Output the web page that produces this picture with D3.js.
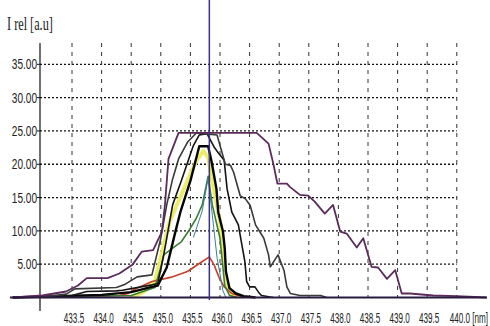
<!DOCTYPE html>
<html>
<head>
<meta charset="utf-8">
<script src="https://cdnjs.cloudflare.com/ajax/libs/d3/7.8.5/d3.min.js"></script>
<style>
  html, body { margin: 0; padding: 0; background: white; }
</style>
</head>
<body>
<div class="specDiv"></div>
<script>

// ----------------------- Data --------------------------------//

// wavelength [nm] / relative intensity pairs
let purpleSeries = [[432.5,0],[433.0,0.3],[433.4,0.9],[433.6,1.8],[433.75,2.9],[434.1,2.9],[434.3,3.6],[434.52,4.9],[434.68,6.9],[434.87,7.1],[435.02,9.9],[435.07,13.9],[435.13,20.8],[435.3,24.7],
    [436.62,24.7],[436.82,23.1],[436.9,20.1],[436.97,17.1],[437.13,17.1],[437.18,16.6],[437.35,15.4],[437.49,15.3],[437.6,14.4],[437.77,12.6],[437.91,13.9],[438.03,9.9],[438.14,9.6],[438.31,7.5],[438.42,8.9],[438.56,4.6],[438.67,4.5],[438.82,2.8],[438.96,4.1],[439.07,0.6],[439.21,0.6],[439.6,0.3],[440.0,0.2],[440.5,0]]

let graySeries = [[432.5,0],[433.0,0.1],[433.4,0.5],[433.55,1.3],[434.25,1.5],[434.4,2.0],[434.6,3.1],[434.85,3.4],[435.0,8.9],[435.1,13.9],[435.2,17.8],[435.3,20.8],[435.45,23.3],[435.6,24.7],[435.95,24.4],[436.09,20.0],[436.18,19.8],[436.23,18.8],[436.34,15.3],[436.43,14.8],[436.51,13.8],[436.6,10.9],[436.74,8.9],[436.82,6.4],[436.85,4.6],[436.98,6.4],[437.08,4.1],[437.13,1.6],[437.19,0.6],[437.35,0.3],[437.7,0.3],[437.8,0]]

let blackSeries = [[432.5,0],[433.5,0.3],[433.75,0.9],[434.25,1.0],[434.35,1.1],[434.85,1.9],[434.95,2.1],[435.05,6.4],[435.2,13.9],[435.35,17.6],[435.55,22.8],[435.65,24.4],[435.78,24.6],[435.9,22.6],[435.98,21.6],[436.07,20.6],[436.12,16.3],[436.2,12.8],[436.31,10.9],[436.36,8.4],[436.42,5.4],[436.45,2.4],[436.5,1.6],[436.59,1.6],[436.65,0.8],[436.7,0.3],[436.9,0]]

let thickSeries = [[432.5,0],[434.0,0.4],[434.5,0.8],[434.85,1.6],[434.95,1.8],[435.1,4.5],[435.25,10.0],[435.33,12.8],[435.5,17.5],[435.65,22.7],[435.8,22.7],[435.86,20.3],[435.94,16.3],[435.97,12.8],[436.05,9.9],[436.08,7.4],[436.1,3.9],[436.16,1.4],[436.27,0.6],[436.4,0.2],[436.6,0]]

let yellowSeries = [[434.5,0],[434.7,0.8],[434.9,2.4],[435.15,11.4],[435.4,16.5],[435.6,20.5],[435.72,22.0],[435.8,21.0],[435.9,16.0],[436.0,11.4],[436.1,2.4],[436.2,0.5],[436.3,0]]

let greenSeries = [[432.5,0],[434.5,0.3],[434.9,1.5],[435.0,4.5],[435.05,6.4],[435.2,7.4],[435.35,8.4],[435.5,10.4],[435.6,11.9],[435.7,13.9],[435.8,18.2],[435.87,13.9],[436.0,8.9],[436.08,1.8],[436.16,0.3],[436.3,0]]

let cyanSeries = [[435.55,9.0],[435.7,13.0],[435.8,18.0],[435.85,14.0],[435.95,6.0],[436.05,1.0],[436.1,0]]

let redSeries = [[433.0,0],[434.3,0.3],[434.45,0.6],[434.55,1.2],[434.85,2.4],[435.2,3.1],[435.45,3.9],[435.65,5.1],[435.82,6.1],[435.9,4.9],[435.98,3.1],[436.07,1.6],[436.2,0.6],[436.35,0.2],[436.5,0]]

// marker line position
let markerWavelength = 435.82

// axis ticks
let xTicks = [433.5,434.0,434.5,435.0,435.5,436.0,436.5,437.0,437.5,438.0,438.5,439.0,439.5,440.0]
let xTickLabels = ["433.5","434.0","434.5","435.0","435.5","436.0","436.5","437.0","437.5","438.0","438.5","439.0","439.5","440.0 [nm]"]
let yTicks = [5,10,15,20,25,30,35]
let yTickLabels = ["5.00","10.00","15.00","20.00","25.00","30.00","35.00"]

// ----------------------- Setup --------------------------------//

let width = 490, height = 326

let x = d3.scaleLinear().domain([433, 440]).range([42.4, 456.8])
let y = d3.scaleLinear().domain([0, 38.2]).range([297.5, 43])

let svg = d3.select(".specDiv").append("svg")
    .attr("width", width)
    .attr("height", height)
    .style("display", "block")
    .style("background-color", "white")

// horizontal dotted grid
svg.append("g").selectAll("line")
    .data(yTicks)
    .join("line")
    .attr("x1", 40)
    .attr("x2", x(440))
    .attr("y1", d => y(d))
    .attr("y2", d => y(d))
    .attr("stroke", "#111")
    .attr("stroke-width", 1.3)
    .attr("stroke-dasharray", "2,2")

// vertical dashed grid
svg.append("g").selectAll("line")
    .data(xTicks)
    .join("line")
    .attr("x1", d => x(d))
    .attr("x2", d => x(d))
    .attr("y1", y(38.2))
    .attr("y2", y(0))
    .attr("stroke", "#333")
    .attr("stroke-width", 1)
    .attr("stroke-dasharray", "4,5")

// y axis line + ticks
svg.append("line")
    .attr("x1", 40).attr("x2", 40)
    .attr("y1", y(38.2)).attr("y2", 311)
    .attr("stroke", "#111")
    .attr("stroke-width", 1.2)

svg.append("g").selectAll("line")
    .data(yTicks)
    .join("line")
    .attr("x1", 37).attr("x2", 40)
    .attr("y1", d => y(d)).attr("y2", d => y(d))
    .attr("stroke", "#111")

// ----------------------- Curves --------------------------------//

let line = d3.line()
    .x(d => x(d[0]))
    .y(d => y(d[1]))

let curves = [
    {data: yellowSeries, color: "#ecec6a", w: 4},
    {data: redSeries, color: "#c8402c", w: 1.6},
    {data: greenSeries, color: "#3b7d34", w: 1.6},
    {data: cyanSeries, color: "#3a7f9a", w: 1},
    {data: thickSeries, color: "#050505", w: 2.4},
    {data: blackSeries, color: "#141414", w: 1.6},
    {data: graySeries, color: "#3a3a3a", w: 1.6},
    {data: purpleSeries, color: "#5b2b5b", w: 1.8}
]

svg.append("g").selectAll("path")
    .data(curves)
    .join("path")
    .attr("d", d => line(d.data))
    .attr("fill", "none")
    .attr("stroke", d => d.color)
    .attr("stroke-width", d => d.w)
    .attr("stroke-linejoin", "round")

// x axis baseline
svg.append("line")
    .attr("x1", 10).attr("x2", 487)
    .attr("y1", y(0)).attr("y2", y(0))
    .attr("stroke", "#2a1a40")
    .attr("stroke-width", 2)

// marker line
svg.append("line")
    .attr("x1", x(markerWavelength)).attr("x2", x(markerWavelength))
    .attr("y1", 0).attr("y2", 300)
    .attr("stroke", "#3a2f8c")
    .attr("stroke-width", 1.5)

// ----------------------- Labels --------------------------------//

// condensed text, like the original software font
svg.append("g").selectAll("text")
    .data(yTicks)
    .join("text")
    .attr("transform", d => "translate(37," + (y(d) + 5) + ") scale(0.72,1)")
    .attr("text-anchor", "end")
    .style("font-family", "'Liberation Sans', Arial, sans-serif")
    .style("font-size", "14px")
    .attr("fill", "#222")
    .text((d, i) => yTickLabels[i])

let lastTick = xTicks.length - 1

svg.append("g").selectAll("text")
    .data(xTicks)
    .join("text")
    .attr("transform", (d, i) => "translate(" + (i == lastTick ? 488 : x(d) + 2) + ",323) scale(0.58,1)")
    .attr("text-anchor", (d, i) => i == lastTick ? "end" : "middle")
    .style("font-family", "'Liberation Sans', Arial, sans-serif")
    .style("font-size", "14px")
    .attr("fill", "#222")
    .text((d, i) => xTickLabels[i])

svg.append("text")
    .attr("transform", "translate(7,30) scale(0.68,1)")
    .style("font-family", "'Liberation Serif', 'Times New Roman', serif")
    .style("font-size", "18px")
    .attr("fill", "#222")
    .text("I rel [a.u]")

</script>
</body>
</html>
